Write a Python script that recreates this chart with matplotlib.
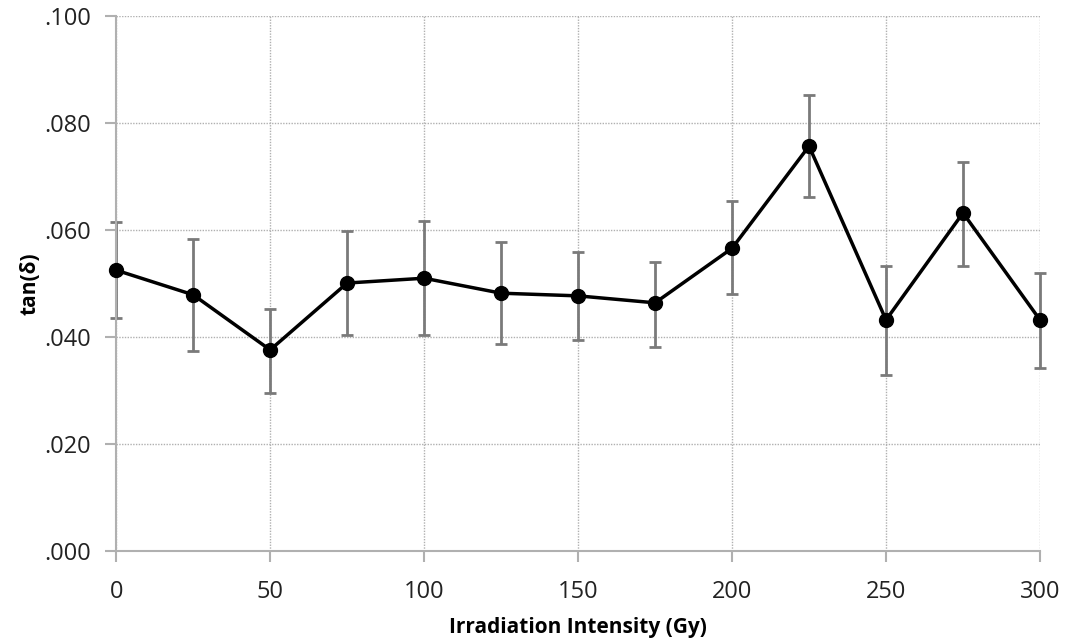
import numpy as np
import matplotlib.pyplot as plt
from matplotlib.ticker import FuncFormatter

# Data
dose = [0, 25, 50, 75, 100, 125, 150, 175, 200, 225, 250, 275, 300]
tan_delta = [0.0525, 0.0479, 0.0376, 0.0501, 0.0510, 0.0482, 0.0477,
             0.0464, 0.0566, 0.0757, 0.0432, 0.0632, 0.0432]
err_up = [0.0615, 0.0583, 0.0452, 0.0598, 0.0617, 0.0578, 0.0559,
          0.0540, 0.0654, 0.0852, 0.0533, 0.0727, 0.0520]
err_low = [0.0435, 0.0374, 0.0295, 0.0404, 0.0404, 0.0387, 0.0394,
           0.0381, 0.0480, 0.0662, 0.0329, 0.0533, 0.0342]

plt.rcParams['font.family'] = ['Open Sans', 'DejaVu Sans']

y = np.array(tan_delta)
yerr = [y - np.array(err_low), np.array(err_up) - y]

fig = plt.figure(figsize=(10.66, 6.43), dpi=100)
ax = fig.add_axes([0.109, 0.143, 0.8666, 0.832])

eb = ax.errorbar(dose, y, yerr=yerr, fmt='none', ecolor='#7a7a7a', elinewidth=2,
                 capsize=4, capthick=2, zorder=2)
for art in eb.lines[1] + eb.lines[2]:
    art.set_clip_on(False)
line, = ax.plot(dose, y, color='black', linewidth=2.5, marker='o', markersize=10,
                zorder=3)
line.set_clip_on(False)

ax.set_xlim(0, 300)
ax.set_ylim(0, 0.1)
ax.set_xticks(np.arange(0, 301, 50))
ax.set_yticks(np.arange(0, 0.1001, 0.02))
ax.yaxis.set_major_formatter(FuncFormatter(lambda v, p: f'{v:.3f}'.lstrip('0')))

ax.grid(True, color='#b0b0b0', linestyle=(0, (1, 1)), linewidth=1)
ax.set_axisbelow(True)
for s in ['top', 'right']:
    ax.spines[s].set_visible(False)
for s in ['left', 'bottom']:
    ax.spines[s].set_color('#b0b0b0')
    ax.spines[s].set_linewidth(1.5)
ax.tick_params(axis='both', colors='#b0b0b0', labelcolor='#222222',
               labelsize=17, length=8, width=1.5, direction='out')
ax.tick_params(axis='x', pad=13)
ax.tick_params(axis='y', pad=10)

ax.set_xlabel('Irradiation Intensity (Gy)', fontsize=15, fontweight='bold',
              labelpad=9)
ax.set_ylabel('tan(δ)', fontsize=15, fontweight='bold', labelpad=3)

fig.savefig('out.png', dpi=100)
